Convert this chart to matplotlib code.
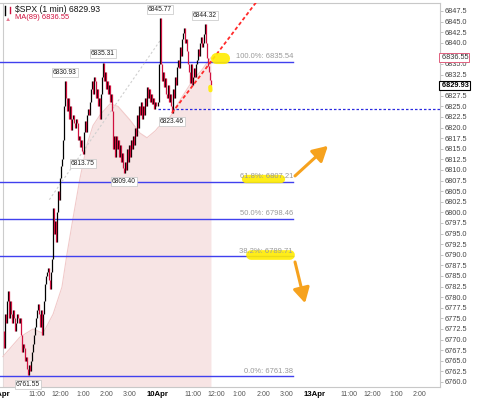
import numpy as np
import matplotlib.pyplot as plt
import matplotlib.transforms as mtransforms

plt.rcParams['font.family'] = ['Liberation Sans', 'DejaVu Sans']

# 1-min $SPX, sampled roughly every 2.5 min (closes)
apr9_close = [
    6772, 6768, 6776, 6774, 6779, 6781.5, 6775, 6779, 6776, 6774,
    6777, 6775, 6772, 6774, 6776, 6775, 6774, 6775, 6771, 6767,
    6769, 6768, 6765, 6766, 6763, 6761.55, 6764, 6762.5, 6765, 6767,
    6769, 6771, 6773, 6775, 6777, 6778.5, 6776, 6773, 6777, 6771,
    6776, 6779, 6783, 6785, 6786, 6787, 6784, 6782, 6786, 6789,
    6801, 6795, 6798, 6793, 6800, 6805, 6803, 6808, 6811, 6812.5,
    6817, 6825, 6830.93, 6827, 6824, 6827, 6822, 6825, 6819.5, 6822,
    6823, 6821, 6820, 6822, 6821, 6817, 6818, 6815.5, 6817, 6814.5,
    6813.75, 6819, 6821.5, 6819, 6823, 6824.5, 6823, 6826, 6829, 6831,
    6828, 6832, 6831, 6827, 6829, 6825, 6827, 6822, 6828, 6832,
    6835.31, 6831, 6833, 6829, 6831, 6828, 6830, 6826, 6828, 6824,
    6815, 6818, 6813, 6818, 6815, 6817, 6813, 6816, 6812, 6814,
    6810.5, 6809.40, 6812, 6810, 6815, 6812, 6816, 6813, 6817, 6815,
    6818, 6816, 6820, 6818, 6823, 6820, 6825, 6823, 6826, 6822,
    6825, 6823, 6827, 6825, 6829.5, 6827, 6829, 6826, 6828, 6825.5,
    6827, 6824.5, 6826, 6825,
]
apr10_close = [
    6826, 6835, 6845.77, 6835, 6831, 6833, 6829.6, 6831.7, 6828, 6827,
    6830, 6826, 6828, 6825, 6823.46, 6829, 6827, 6832, 6830, 6834.3,
    6836, 6834, 6839, 6837, 6841, 6842.3, 6843.5, 6840, 6841, 6838,
    6835, 6833, 6830.5, 6835, 6830, 6832, 6834, 6832, 6835, 6836,
    6838.5, 6837, 6840, 6841.4, 6839, 6840, 6842, 6844.32, 6840, 6836.3,
    6834.5, 6833, 6831.2, 6829.93,
]
apr9_span = [9.56, 16.1]     # clock hours of first / last bar
apr10_span = [9.5, 11.77]

# MA(89)
ma9_time = [9.56, 10.29, 10.85, 11.28, 11.71, 12.09, 12.30, 12.56, 12.86,
            13.16, 13.42, 13.72, 14.15, 14.49, 15.0, 15.43, 15.73, 16.1]
ma9_val = [6766, 6770.6, 6772.5, 6771.5, 6776, 6782.4, 6790, 6798.5, 6808,
           6816, 6820.5, 6823, 6825.6, 6825, 6821.8, 6818.7, 6817.6, 6819.3]
ma10_time = [9.5, 10.02, 10.45, 10.97, 11.38, 11.77]
ma10_val = [6820, 6822.5, 6826.5, 6831, 6833.6, 6836.55]

fib_pct = ['100.0%', '61.8%', '50.0%', '38.2%', '0.0%']
fib_val = [6835.54, 6807.21, 6798.46, 6789.71, 6761.38]

swing_highs = [6830.93, 6835.31, 6845.77, 6844.32]
swing_lows = [6813.75, 6809.40, 6761.55, 6823.46]

last_price = 6829.93
ma_last = 6836.55
support = 6824.5

days = ['9Apr', '10Apr', '13Apr']
hour_ticks = [11, 12, 13, 14, 15]
hour_labels = ['11:00', '12:00', '1:00', '2:00', '3:00']

DAY = 6.7  # width of a session on the axis, in hours
XMIN, XMAX = -0.064, 18.78
YMIN, YMAX = 6758.82, 6849.39


def xpos(day, clock):
    return day * DAY + (np.asarray(clock) - 9.5)


x9 = xpos(0, np.linspace(apr9_span[0], apr9_span[1], len(apr9_close)))
x10 = xpos(1, np.linspace(apr10_span[0], apr10_span[1], len(apr10_close)))
xs = np.concatenate([x9, x10])
closes = np.array(apr9_close + apr10_close)
opens = np.r_[closes[0], closes[:-1]]

fig = plt.figure(figsize=(4.8, 4.03), dpi=100)
ax = fig.add_axes([0, 0.0397, 0.9167, 0.9529])
ax.set_xlim(XMIN, XMAX)
ax.set_ylim(YMIN, YMAX)

# MA area
ma_x = np.concatenate([xpos(0, ma9_time), xpos(1, ma10_time)])
ma_y = np.array(ma9_val + ma10_val)
ax.fill_between(ma_x, ma_y, YMIN, color='#f7e4e4', lw=0, zorder=1)
ax.plot(ma_x, ma_y, color='#f1caca', lw=0.8, zorder=1)

# fib levels
fib_end = 12.48
for p, v in zip(fib_pct, fib_val):
    ax.plot([-0.1, fib_end], [v, v], color='#4040ee', lw=1.0, zorder=2)
    ax.text(fib_end, v + 0.35, f'{p}: {v:.2f}', ha='right', va='bottom',
            fontsize=5.5, color='#9a9a9a', zorder=6)

# support line
ax.plot([xpos(1, 9.5), 19], [support, support], color='#2a2ae0', lw=0.9,
        dashes=(2, 1.6), zorder=2)

# grey trendline
ax.plot([xpos(0, 11.55), xpos(1, 9.59)], [6803, 6840.5], color='#cfcfcf',
        lw=0.8, dashes=(2, 2), zorder=2)

# candles
up = closes >= opens
ax.vlines(xs[up], opens[up], closes[up], color='black', lw=0.9, zorder=3)
ax.vlines(xs[~up], opens[~up], closes[~up], color='#d0103e', lw=0.9, zorder=3)

# red dotted trendline from 6823.46 low
i_low = np.argmin(np.abs(closes - 6823.46))
ax.plot([xs[i_low], xpos(1, 13.85)], [6823.46, 6850.6], color='#ff2a2a',
        lw=1.3, dashes=(2, 1.4), zorder=4)

# highlighter marks
hl = dict(color='#ffec00', alpha=0.9, solid_capstyle='round', zorder=5)
ax.plot([9.2, 9.55], [6836.4, 6836.4], lw=8, **hl)
ax.plot([8.94, 8.95], [6829.6, 6828.8], lw=3, **hl)
ax.plot([10.45, 11.95], [6807.9, 6807.9], lw=6, **hl)
ax.plot([10.7, 12.35], [6789.9, 6789.9], lw=7, **hl)

# orange arrows
arw = dict(arrowstyle='-|>,head_length=0.9,head_width=0.5', color='#f6a21e',
           lw=2.2, shrinkA=0, shrinkB=0)
ax.annotate('', xy=(13.98, 6815.7), xytext=(12.57, 6808.6), arrowprops=arw, zorder=6)
ax.annotate('', xy=(13.0, 6778.6), xytext=(12.57, 6788.3), arrowprops=arw, zorder=6)

# swing labels
box = dict(boxstyle='square,pad=0.15', fc='white', ec='#c4c4c4', lw=0.5)
for v in swing_highs:
    i = np.argmin(np.abs(closes - v))
    ax.annotate(f'{v:.2f}', (xs[i], v), xytext=(0, 4), textcoords='offset points',
                ha='center', va='bottom', fontsize=4.8, color='#222', bbox=box,
                zorder=7, annotation_clip=False)
for v in swing_lows:
    i = np.argmin(np.abs(closes - v))
    ax.annotate(f'{v:.2f}', (xs[i], v), xytext=(0, -4), textcoords='offset points',
                ha='center', va='top', fontsize=4.8, color='#222', bbox=box,
                zorder=7, annotation_clip=False)

# day start line
ax.axvline(0.06, color='#cccccc', lw=0.8, zorder=0)

# axes styling
for s in ['top', 'right', 'bottom']:
    ax.spines[s].set_color('#c8c8c8')
    ax.spines[s].set_linewidth(0.8)
ax.spines['left'].set_visible(False)

ax.yaxis.tick_right()
yt = np.arange(6760, 6848, 2.5)
ax.set_yticks(yt)
# tick labels hidden behind the value boxes on the right
hidden = [6830.0, 6837.5]
ax.set_yticklabels(['' if t in hidden else f'{t:.1f}' for t in yt])
ax.tick_params(axis='y', length=2, width=0.5, color='#aaaaaa', labelsize=5.3,
               pad=1, labelcolor='#444444')

xt, xl, bold = [], [], []
for d, name in enumerate(days):
    xt.append(xpos(d, 9.5))
    xl.append(name)
    bold.append(True)
    for h, lab in zip(hour_ticks, hour_labels):
        if xpos(d, h) < XMAX - 0.2:
            xt.append(xpos(d, h))
            xl.append(lab)
            bold.append(False)
ax.set_xticks(xt)
ax.set_xticklabels(xl)
ax.tick_params(axis='x', length=0, labelsize=5.0, pad=3, labelcolor='#555555')
for t, b in zip(ax.get_xticklabels(), bold):
    if b:
        t.set_fontweight('bold')
        t.set_color('black')
        t.set_fontsize(5.6)

# right-axis value boxes
trans = mtransforms.blended_transform_factory(ax.transAxes, ax.transData)
ax.text(1.0, ma_last, f' {ma_last:.2f}', transform=trans, ha='left', va='center',
        fontsize=5.3, color='#333', zorder=8, clip_on=False,
        bbox=dict(boxstyle='square,pad=0.12', fc='white', ec='#e0607e', lw=0.7))
ax.text(1.0, last_price, f' {last_price:.2f}', transform=trans, ha='left',
        va='center', fontsize=5.3, color='black', fontweight='bold', zorder=8,
        clip_on=False,
        bbox=dict(boxstyle='square,pad=0.12', fc='white', ec='black', lw=0.8))

# header
ax.text(0.034, 0.982, f'$SPX (1 min) {last_price:.2f}', transform=ax.transAxes,
        ha='left', va='center', fontsize=6.2, color='#111')
ax.text(0.034, 0.961, f'MA(89) {ma_last:.2f}', transform=ax.transAxes,
        ha='left', va='center', fontsize=5.4, color='#d0103e')
ax.plot([0.012, 0.012], [0.970, 0.992], transform=ax.transAxes, color='black', lw=1)
ax.plot([0.022, 0.022], [0.975, 0.990], transform=ax.transAxes, color='#d0103e', lw=1)
ax.text(0.017, 0.958, '\u25b2', transform=ax.transAxes, ha='center', va='center',
        fontsize=4.5, color='#e37a92')

fig.savefig('out.png', dpi=100)
